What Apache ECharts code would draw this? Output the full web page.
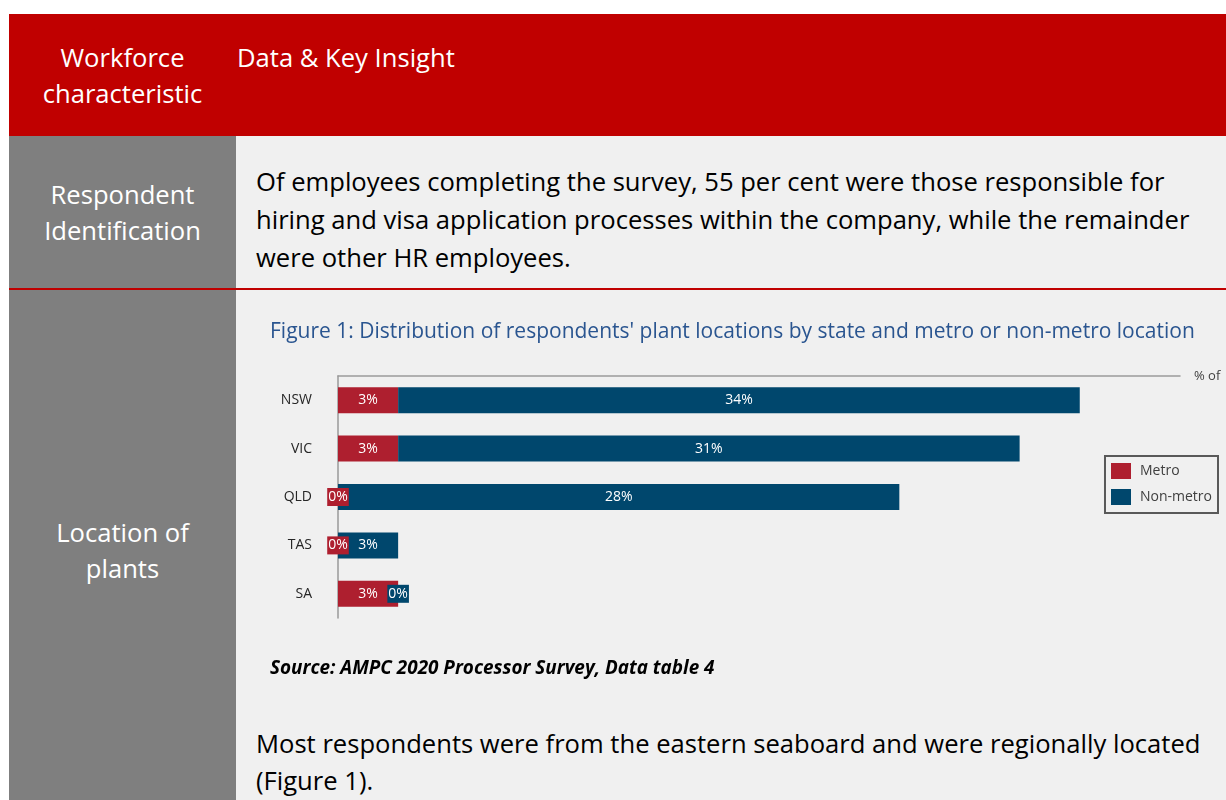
<!DOCTYPE html>
<html>
<head>
<meta charset="utf-8">
<script src="https://cdn.jsdelivr.net/npm/echarts@6/dist/echarts.min.js"></script>
<style>
  html, body { margin: 0; padding: 0; background: #ffffff; }
  body { width: 1226px; height: 800px; overflow: hidden; position: relative; font-family: "Open Sans", "Noto Sans", sans-serif; }
  .blk { position: absolute; }
  .txt { position: absolute; font-size: 25.6px; white-space: nowrap; }
  .hdr { color: #ffffff; }
  .cell-l { text-align: center; width: 227px; left: 9px; color: #ffffff; line-height: 36px; }
  .body { color: #000000; left: 256px; line-height: 38px; }
</style>
</head>
<body>
  <!-- header band -->
  <div class="blk" style="left:9px;top:14px;width:1217px;height:122px;background:#C00000;"></div>
  <!-- left label column -->
  <div class="blk" style="left:9px;top:136px;width:227px;height:664px;background:#7F7F7F;"></div>
  <!-- right content column -->
  <div class="blk" style="left:236px;top:136px;width:990px;height:664px;background:#F0F0F0;"></div>
  <!-- row divider -->
  <div class="blk" style="left:9px;top:288px;width:1217px;height:1.5px;background:#C00000;"></div>

  <div class="txt cell-l" style="top:40px;">Workforce<br>characteristic</div>
  <div class="txt hdr" style="left:237px;top:40px;line-height:36px;">Data &amp; Key Insight</div>

  <div class="txt cell-l" style="top:177px;">Respondent<br>Identification</div>
  <div class="txt body" style="top:163px;">Of employees completing the survey, 55 per cent were those responsible for<br>hiring and visa application processes within the company, while the remainder<br>were other HR employees.</div>

  <div class="txt cell-l" style="top:515px;">Location of<br>plants</div>

  <div id="chart" class="blk" style="left:236px;top:290px;width:990px;height:410px;"></div>

  <div class="txt body" style="top:725px;line-height:37px;">Most respondents were from the eastern seaboard and were regionally located<br>(Figure 1).</div>

<script>
// Share of respondents' plants by state, split metro / non-metro (%)
const states = ['NSW', 'VIC', 'QLD', 'TAS', 'SA'];
const metro = [3, 3, 0, 0, 3];
const nonMetro = [34, 31, 28, 3, 0];
const seriesNames = ['Metro', 'Non-metro'];

const chart = echarts.init(document.getElementById('chart'), null, { renderer: 'canvas' });

const FONT = '"Open Sans", "Noto Sans", sans-serif';
const METRO_COLOR = '#AE1F2F';
const NONMETRO_COLOR = '#00476D';

function barLabel(color) {
  return {
    show: true,
    position: 'inside',
    formatter: '{c}%',
    color: '#ffffff',
    fontSize: 14,
    fontFamily: FONT,
    backgroundColor: color,
    padding: [2, 1],
    borderColor: '#d4d4d4',
    borderWidth: 0
  };
}

chart.setOption({
  animation: false,
  textStyle: { fontFamily: FONT },
  title: {
    text: "Figure 1: Distribution of respondents' plant locations by state and metro or non-metro location",
    left: 29,
    top: 27,
    textStyle: { fontSize: 21, fontWeight: 'normal', color: '#2A5590', fontFamily: FONT }
  },
  legend: {
    orient: 'vertical',
    right: 8,
    top: 166,
    data: seriesNames,
    icon: 'rect',
    itemWidth: 20,
    itemHeight: 16,
    itemGap: 10,
    padding: [7, 6, 8, 6],
    borderColor: '#595959',
    borderWidth: 2,
    textStyle: { fontSize: 14, color: '#404040', fontFamily: FONT, padding: [0, 0, 0, 4] }
  },
  grid: { left: 102, right: 46, top: 86, height: 242, containLabel: false },
  xAxis: {
    type: 'value',
    position: 'top',
    min: 0,
    max: 42,
    name: '% of',
    nameLocation: 'end',
    nameGap: 14,
    nameTextStyle: { fontSize: 13, color: '#404040', fontFamily: FONT },
    axisLine: { show: true, lineStyle: { color: '#9A9A9A', width: 1.5 } },
    axisTick: { show: false },
    axisLabel: { show: false },
    splitLine: { show: false }
  },
  yAxis: {
    type: 'category',
    data: states,
    inverse: true,
    axisLine: { show: true, lineStyle: { color: '#9A9A9A', width: 1.5 } },
    axisTick: { show: false },
    axisLabel: { fontSize: 14, color: '#262626', margin: 26, fontFamily: FONT }
  },
  series: [
    {
      name: seriesNames[0],
      type: 'bar',
      stack: 'total',
      barWidth: 26,
      data: metro,
      itemStyle: { color: METRO_COLOR },
      label: barLabel(METRO_COLOR)
    },
    {
      name: seriesNames[1],
      type: 'bar',
      stack: 'total',
      barWidth: 26,
      data: nonMetro,
      itemStyle: { color: NONMETRO_COLOR },
      label: barLabel(NONMETRO_COLOR)
    }
  ],
  graphic: [
    {
      type: 'text',
      left: 34,
      top: 369,
      style: {
        text: 'Source: AMPC 2020 Processor Survey, Data table 4',
        fontSize: 18.9,
        fontWeight: 'bold',
        fontStyle: 'italic',
        fill: '#000000',
        fontFamily: FONT
      }
    }
  ]
});
</script>
</body>
</html>
